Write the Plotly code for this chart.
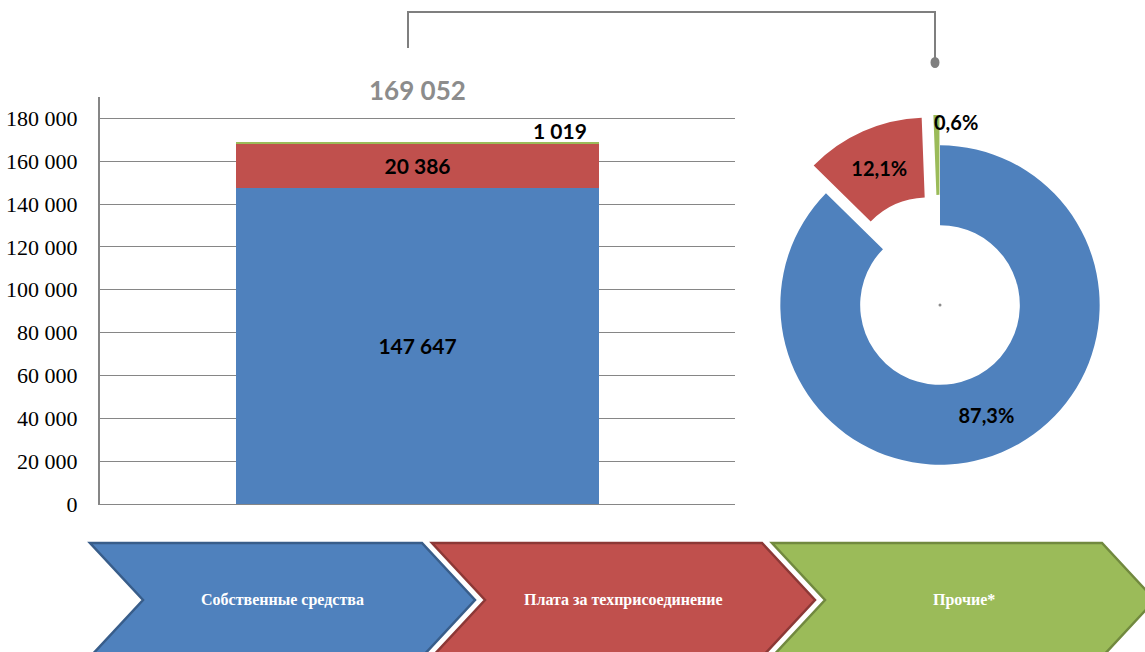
import plotly.graph_objects as go

# ---- data ----
categories = ["Собственные средства", "Плата за техприсоединение", "Прочие*"]
values = [147647, 20386, 1019]
colors = ["#4F81BD", "#C0504D", "#9BBB59"]
border_colors = ["#385D8A", "#8C3836", "#71893F"]
bar_category = [""]
y_ticks = [0, 20000, 40000, 60000, 80000, 100000, 120000, 140000, 160000, 180000]
pie_pull = [0, 0.19, 0.19]
pie_textpos = ["inside", "inside", "none"]

W, H = 1145, 652


def px(x):
    return x / W


def py(y):
    return 1 - y / H


fig = go.Figure()

# stacked bar
for i, (name, v, c) in enumerate(zip(categories, values, colors)):
    fig.add_trace(go.Bar(
        x=bar_category, y=[v], name=name,
        marker=dict(color=c, line=dict(width=0)),
        width=0.573,
        text=[v] if i < 2 else None,
        texttemplate="%{y:,d}" if i < 2 else None,
        textposition="inside", insidetextanchor="middle",
        textfont=dict(family="Lato", size=21, color="black", weight="bold"),
        showlegend=False, hoverinfo="skip",
    ))

total = sum(values)
fig.add_annotation(x=0, y=total, xref="x", yref="y",
                   text=f"{total:,}".replace(",", " "), showarrow=False,
                   yanchor="middle", yshift=52,
                   font=dict(family="Lato", size=26, color="#8C8C8C", weight="bold"))
fig.add_annotation(x=0, y=total, xref="x", yref="y",
                   text=f"{values[2]:,}".replace(",", " "), showarrow=False,
                   yanchor="bottom", xshift=142, yshift=-3,
                   font=dict(family="Lato", size=21, color="black", weight="bold"))

# donut
pc_x, pc_y, half = 940, 305, 190
fig.add_trace(go.Pie(
    labels=categories, values=values, hole=0.5, pull=pie_pull,
    sort=False, direction="clockwise", rotation=0,
    marker=dict(colors=colors, line=dict(width=0)),
    texttemplate="%{percent:.1%}", textposition=pie_textpos,
    insidetextorientation="horizontal",
    textfont=dict(family="Lato", size=20, color="black", weight="bold"),
    domain=dict(x=[px(pc_x - half), px(pc_x + half)], y=[py(pc_y + half), py(pc_y - half)]),
    showlegend=False, hoverinfo="skip",
))
small_share = values[2] / total * 100
fig.add_annotation(x=px(932), y=py(122), xref="paper", yref="paper",
                   xanchor="left", yanchor="middle", showarrow=False,
                   text=f"{small_share:.1f}%".replace(".", ","),
                   font=dict(family="Lato", size=20, color="black", weight="bold"))

fig.update_layout(
    barmode="stack",
    width=W, height=H,
    margin=dict(l=0, r=0, t=0, b=0, pad=0, autoexpand=False),
    paper_bgcolor="white", plot_bgcolor="white",
    separators=", ",
    xaxis=dict(domain=[px(100), px(735)], range=[-0.5, 0.5], showticklabels=False,
               showgrid=False, zeroline=False, showline=True, linecolor="#868686",
               linewidth=1, fixedrange=True, automargin=False, ticks=""),
    yaxis=dict(domain=[py(504), py(97)], range=[0, 190000], tickvals=y_ticks,
               tickformat=",d", showgrid=True, gridcolor="#868686", gridwidth=1,
               zeroline=False, showline=True, linecolor="#868686", linewidth=2,
               ticks="", ticklabelstandoff=16, automargin=False,
               tickfont=dict(family="Liberation Serif", size=22, color="black")),
)

# decorative chevrons
chevrons = [(90, 422), (432, 762), (772, 1102)]
for (x0, x1), c, bc, name in zip(chevrons, colors, border_colors, categories):
    d = 53
    pts = [(x0, 543), (x1, 543), (x1 + d, 600), (x1, 657), (x0, 657), (x0 + d, 600)]
    path = "M " + " L ".join(f"{px(a)},{py(b)}" for a, b in pts) + " Z"
    fig.add_shape(type="path", path=path, xref="paper", yref="paper",
                  fillcolor=c, line=dict(color=bc, width=2.5), layer="above")
    fig.add_annotation(x=px((x0 + x1 + d) / 2), y=py(600), xref="paper", yref="paper",
                       xanchor="center", yanchor="middle",
                       text=f"<b>{name}</b>", showarrow=False,
                       font=dict(family="Liberation Serif", size=16, color="white"))

# connector from bar total to donut
conn = [(408, 48), (408, 12), (935, 12), (935, 60)]
fig.add_shape(type="path", xref="paper", yref="paper",
              path="M " + " L ".join(f"{px(a)},{py(b)}" for a, b in conn),
              line=dict(color="#7F7F7F", width=2))
fig.add_shape(type="circle", xref="paper", yref="paper",
              x0=px(930.5), x1=px(939.5), y0=py(68), y1=py(57),
              fillcolor="#7F7F7F", line=dict(width=0))
fig.add_shape(type="circle", xref="paper", yref="paper",
              x0=px(938.5), x1=px(941.5), y0=py(306.5), y1=py(303.5),
              fillcolor="#8C8C8C", line=dict(width=0))

fig.write_html("out.html", config={"displayModeBar": False},
               post_script="document.body.style.margin='0';")
